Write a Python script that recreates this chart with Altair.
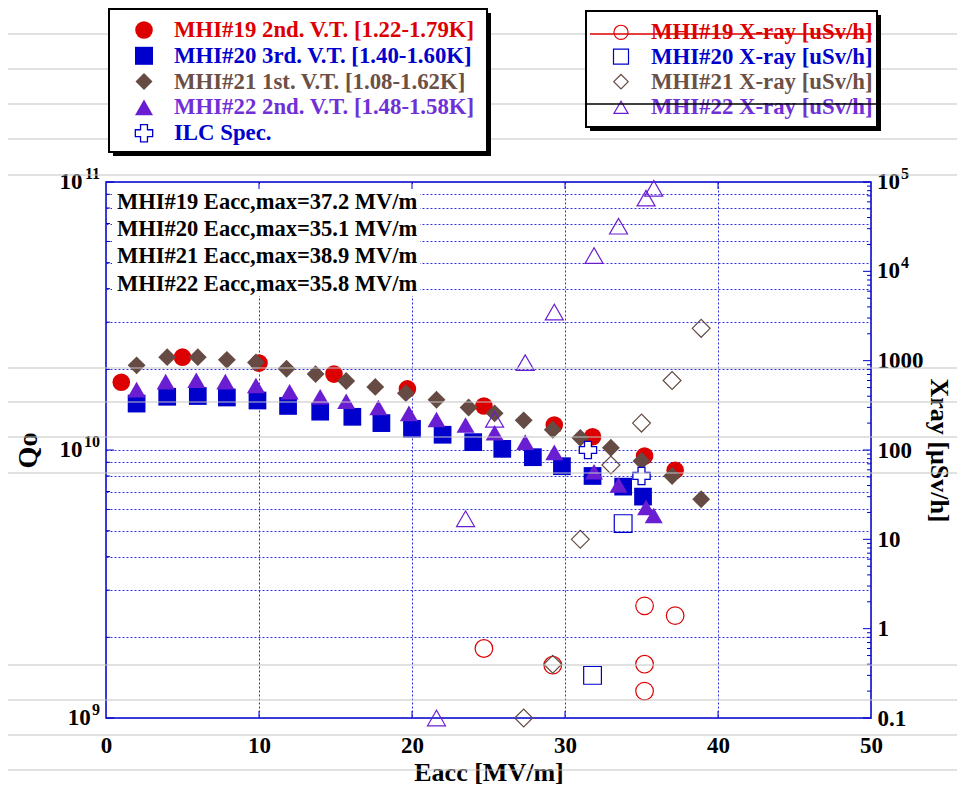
import altair as alt
import pandas as pd

# ---------------- data ----------------
SERIES = ["MHI#19", "MHI#20", "MHI#21", "MHI#22"]
COLORS = ["#dd0000", "#0000cc", "#654b44", "#6a1ed2"]
SHAPES = ["circle", "square", "diamond", "triangle-up"]

# Q0 vs Eacc
E19 = [1.0, 5.0, 10.0, 14.9, 19.7, 24.7, 29.3, 31.8, 35.2, 37.2]
Q19 = [1.79e10, 2.22e10, 2.11e10, 1.92e10, 1.69e10, 1.46e10, 1.24e10, 1.12e10, 9.5e9, 8.4e9]
E20 = [2.0, 4.0, 6.0, 7.9, 9.9, 11.9, 14.0, 16.1, 18.0, 20.0, 22.0, 24.0, 25.9, 27.9, 29.8, 31.8, 33.8, 35.1]
Q20 = [1.49e10, 1.58e10, 1.59e10, 1.57e10, 1.53e10, 1.46e10, 1.39e10, 1.33e10, 1.26e10, 1.20e10,
       1.14e10, 1.07e10, 1.01e10, 9.4e9, 8.7e9, 8.0e9, 7.3e9, 6.7e9]
E21 = [2.0, 4.0, 6.0, 7.9, 9.8, 11.8, 13.7, 15.7, 17.6, 19.6, 21.6, 23.7, 25.4, 27.3, 29.2, 31.0, 33.0, 35.0, 37.0, 38.9]
Q21 = [2.07e10, 2.22e10, 2.22e10, 2.17e10, 2.12e10, 2.01e10, 1.92e10, 1.81e10, 1.72e10, 1.63e10,
       1.54e10, 1.44e10, 1.37e10, 1.29e10, 1.19e10, 1.11e10, 1.02e10, 9.1e9, 8.0e9, 6.55e9]
E22 = [2.0, 3.9, 5.9, 7.8, 9.8, 12.0, 14.0, 15.7, 17.8, 19.8, 21.6, 23.5, 25.4, 27.4, 29.3, 31.9, 33.5, 35.3, 35.8]
Q22 = [1.68e10, 1.80e10, 1.82e10, 1.80e10, 1.74e10, 1.65e10, 1.58e10, 1.52e10, 1.44e10, 1.37e10,
       1.30e10, 1.24e10, 1.16e10, 1.07e10, 9.8e9, 8.3e9, 7.4e9, 6.1e9, 5.7e9]
E_ILC = [31.5, 35.0]
Q_ILC = [1.0e10, 8.0e9]

# X-ray vs Eacc
XE19 = [24.7, 29.2, 35.2, 37.2, 35.2, 35.2]
XR19 = [0.6, 0.39, 1.8, 1.4, 0.4, 0.2]
XE20 = [31.8, 33.8]
XR20 = [0.3, 15]
XE21 = [27.3, 29.2, 31.0, 33.0, 35.0, 37.0, 38.9]
XR21 = [0.1, 0.4, 10, 68, 200, 600, 2300]
XE22 = [21.6, 23.5, 25.4, 27.4, 29.3, 31.9, 33.5, 35.3, 35.8]
XR22 = [0.1, 17, 220, 950, 3500, 15000, 32000, 66000, 85000]

Q_LEGEND = ["MHI#19 2nd. V.T. [1.22-1.79K]", "MHI#20 3rd. V.T. [1.40-1.60K]",
            "MHI#21 1st. V.T. [1.08-1.62K]", "MHI#22 2nd. V.T. [1.48-1.58K]", "ILC Spec."]
X_LEGEND = ["MHI#19 X-ray [uSv/h]", "MHI#20 X-ray [uSv/h]", "MHI#21 X-ray [uSv/h]", "MHI#22 X-ray [uSv/h]"]
ANNOT = ["MHI#19 Eacc,max=37.2 MV/m", "MHI#20 Eacc,max=35.1 MV/m",
         "MHI#21 Eacc,max=38.9 MV/m", "MHI#22 Eacc,max=35.8 MV/m"]

X_TICKS = [0, 10, 20, 30, 40, 50]
Q_DECADES = [1e9, 1e10, 1e11]
Q_EXP = ["9", "10", "11"]
Q_TICKS = [m * 10.0 ** d for d in (9, 10) for m in range(1, 10)] + [1e11]
XR_DECADES = [0.1, 1, 10, 100, 1000, 1e4, 1e5]
XR_POW = [1e4, 1e5]
XR_EXP = ["4", "5"]
XR_TICKS = [m * 10.0 ** d for d in range(-1, 5) for m in range(1, 10)] + [1e5]

# ---------------- layout / style ----------------
W, H = 765, 536
FONT = "Liberation Serif"
BLUE = "#0000cc"
GRID = "#2e2ee0"
LEG_TEXT = ["#dd0000", "#0000cc", "#6b5046", "#7030d8", "#0000cc"]
LAB = 23      # tick label size
SUP = 16      # superscript size

q_df = pd.concat([pd.DataFrame({"E": e, "Q0": q, "series": s})
                  for e, q, s in zip([E19, E20, E21, E22], [Q19, Q20, Q21, Q22], SERIES)])
xr_df = pd.concat([pd.DataFrame({"E": e, "X": x, "series": s})
                   for e, x, s in zip([XE19, XE20, XE21, XE22], [XR19, XR20, XR21, XR22], SERIES)])
ilc_df = pd.DataFrame({"E": E_ILC, "Q0": Q_ILC})
one = pd.DataFrame({"k": [0]})

xs = alt.Scale(domain=[0, 50], nice=False, zero=False)
qs = alt.Scale(type="log", domain=[1e9, 1e11], nice=False)
xrs = alt.Scale(type="log", domain=[0.1, 1e5], nice=False)
cscale = alt.Scale(domain=SERIES, range=COLORS)
shscale = alt.Scale(domain=SERIES, range=SHAPES)

x_axis = alt.Axis(values=X_TICKS, title="Eacc [MV/m]", grid=True, gridColor=GRID, gridDash=[2, 2],
                  gridWidth=1, labelFontSize=LAB, titleFontSize=26, labelPadding=16, titlePadding=2,
                  labelFlush=False, format="d", ticks=False, domain=False)
q_axis = alt.Axis(values=Q_TICKS, title="Qo", grid=True, gridColor=GRID, gridDash=[2, 2], gridWidth=1,
                  labelExpr="''", labelOverlap=False, labelFontSize=LAB, titleFontSize=28,
                  labelPadding=6, titlePadding=58, ticks=False, domain=False)
xr_axis = alt.Axis(orient="right", values=XR_DECADES, title="Xray [μSv/h]", grid=False,
                   labelExpr="datum.value > 9e3 ? '' : (datum.value > 900 ? '1000' : (datum.value > 90 ? '100' : (datum.value > 9 ? '10' : (datum.value > 0.9 ? '1' : '0.1'))))",
                   labelOverlap=False, labelFontSize=LAB, titleFontSize=26, labelPadding=6, titlePadding=2,
                   ticks=False, domain=False)

def tlabel(df, field, txt, x, align, size, dy=0):
    return alt.Chart(df).mark_text(text=txt, align=align, baseline="middle", font=FONT, fontSize=size,
                                   fontWeight="bold", color="black", dy=dy).encode(
        y=f"{field}:Q", x=alt.value(x))

# ---------------- Q0 group ----------------
q_points = alt.Chart(q_df).mark_point(filled=True, opacity=1, strokeWidth=0).encode(
    x=alt.X("E:Q", scale=xs, axis=x_axis),
    y=alt.Y("Q0:Q", scale=qs, axis=q_axis),
    color=alt.Color("series:N", scale=cscale, legend=None),
    shape=alt.Shape("series:N", scale=shscale, legend=None),
    size=alt.Size("series:O", scale=alt.Scale(domain=SERIES, range=[310, 324, 290, 324]), legend=None),
)
ilc_pts = alt.Chart(ilc_df).mark_point(shape="cross", filled=True, fill="white", stroke=BLUE,
                                       strokeWidth=1.3, size=300, opacity=1).encode(x="E:Q", y="Q0:Q")
qmin = pd.DataFrame({"Q0": [v for v in Q_TICKS if v not in Q_DECADES]})
qmaj = pd.DataFrame({"Q0": Q_DECADES})
q_tick_min = alt.Chart(qmin).mark_rule(color=BLUE, strokeWidth=1).encode(
    y="Q0:Q", x=alt.value(0), x2=alt.value(4))
q_tick_maj = alt.Chart(qmaj).mark_rule(color=BLUE, strokeWidth=1).encode(
    y="Q0:Q", x=alt.value(0), x2=alt.value(8))
q_labels = []
for v, ex in zip(Q_DECADES, Q_EXP):
    d = pd.DataFrame({"Q0": [v]})
    supw = 8.2 * len(ex) + 1
    q_labels.append(tlabel(d, "Q0", ex, -6, "right", SUP, dy=-8))
    q_labels.append(tlabel(d, "Q0", "10", -6 - supw, "right", LAB))
q_group = alt.layer(q_points, q_tick_min, q_tick_maj, ilc_pts, *q_labels)

# ---------------- X-ray group ----------------
xr_points = alt.Chart(xr_df).mark_point(filled=False, opacity=1, strokeWidth=1.2).encode(
    x="E:Q",
    y=alt.Y("X:Q", scale=xrs, axis=xr_axis),
    color=alt.Color("series:N", scale=cscale, legend=None),
    shape=alt.Shape("series:N", scale=shscale, legend=None),
    size=alt.Size("series:O", scale=alt.Scale(domain=SERIES, range=[200, 225, 210, 200]), legend=None),
)
xmin = pd.DataFrame({"X": [v for v in XR_TICKS if min(abs(v - d) for d in XR_DECADES) > 1e-9 * v]})
xmaj = pd.DataFrame({"X": XR_DECADES})
xr_tick_min = alt.Chart(xmin).mark_rule(color=BLUE, strokeWidth=1).encode(
    y="X:Q", x=alt.value(W - 4), x2=alt.value(W))
xr_tick_maj = alt.Chart(xmaj).mark_rule(color=BLUE, strokeWidth=1).encode(
    y="X:Q", x=alt.value(W - 8), x2=alt.value(W))
xr_labels = []
for v, ex in zip(XR_POW, XR_EXP):
    d = pd.DataFrame({"X": [v]})
    xr_labels.append(tlabel(d, "X", "10", W + 6, "left", LAB))
    xr_labels.append(tlabel(d, "X", ex, W + 6 + 24, "left", SUP, dy=-8))
xr_group = alt.layer(xr_points, xr_tick_min, xr_tick_maj, *xr_labels)

# ---------------- x ticks (inward, bottom and top) ----------------
xt = pd.DataFrame({"E": X_TICKS[1:-1]})
x_tick_b = alt.Chart(xt).mark_rule(color=BLUE, strokeWidth=1).encode(
    x="E:Q", y=alt.value(H - 7), y2=alt.value(H))
x_tick_t = alt.Chart(xt).mark_rule(color=BLUE, strokeWidth=1).encode(
    x="E:Q", y=alt.value(0), y2=alt.value(7))

# ---------------- decoration helpers ----------------
def rect(x1, y1, x2, y2, **kw):
    return alt.Chart(one).mark_rect(**kw).encode(
        x=alt.value(x1), x2=alt.value(x2), y=alt.value(y1), y2=alt.value(y2))

def hline(y, x1, x2, color, width):
    return alt.Chart(one).mark_rule(color=color, strokeWidth=width).encode(
        x=alt.value(x1), x2=alt.value(x2), y=alt.value(y))

def label(txt, x, y, color, size=22.8):
    return alt.Chart(one).mark_text(text=txt, align="left", baseline="middle", font=FONT,
                                    fontSize=size, fontWeight="bold", color=color).encode(
        x=alt.value(x), y=alt.value(y))

def symbol(shape, x, y, size, filled, color, fill=None):
    kw = dict(shape=shape, size=size, opacity=1)
    if filled:
        kw.update(filled=True, fill=fill if fill else color, strokeWidth=0 if fill is None else 1.3)
        if fill is not None:
            kw.update(stroke=color)
    else:
        kw.update(filled=False, stroke=color, strokeWidth=1.2)
    return alt.Chart(one).mark_point(**kw).encode(x=alt.value(x), y=alt.value(y))

# annotation block (white backing hides the grid)
annot_layers = [rect(6, 2, 314, 114, fill="white")]
for i, t in enumerate(ANNOT):
    annot_layers.append(label(t, 11, 20 + i * 27.2, "black", size=22.5))

# background ruled lines of the slide
BG_LINES = [-148, -113, -78, -43, -7, 186, 220, 255, 291, 483, 518, 553, 588]
bg_layers = [hline(y, -100, 860, "#c4c4c4", 1.2) for y in BG_LINES]

# legend 1 (filled markers)
leg1 = [rect(7, -169, 385, -26, fill="black"),
        rect(3, -173, 381, -30, fill="white", stroke="black", strokeWidth=2)]
L1_Y = [-152, -126.2, -100.4, -74.6, -48.8]
for i in range(4):
    leg1.append(symbol(SHAPES[i], 38, L1_Y[i], [310, 324, 290, 324][i], True, COLORS[i]))
    leg1.append(label(Q_LEGEND[i], 68, L1_Y[i], LEG_TEXT[i]))
leg1.append(symbol("cross", 38, L1_Y[4], 300, True, BLUE, fill="white"))
leg1.append(label(Q_LEGEND[4], 68, L1_Y[4], LEG_TEXT[4]))

# legend 2 (open markers)
leg2 = [rect(484, -167, 775, -51, fill="black"),
        rect(480, -171, 771, -55, fill="white", stroke="black", strokeWidth=2)]
L2_Y = [-149.7, -125.3, -100.3, -74.7]
for i in range(4):
    leg2.append(symbol(SHAPES[i], 515, L2_Y[i], [200, 225, 210, 200][i], False, COLORS[i]))
    leg2.append(label(X_LEGEND[i], 545, L2_Y[i], LEG_TEXT[i]))
leg2.append(hline(-148, 484, 766, "#dd0000", 1.3))
leg2.append(hline(-78, 480, 774, "black", 1.3))

layers = annot_layers + [q_group, xr_group, x_tick_b, x_tick_t] + bg_layers + leg1 + leg2

chart = alt.layer(*layers).resolve_scale(y="independent").properties(
    width=W, height=H,
    autosize=alt.AutoSizeParams(type="none"),
    padding={"left": 98, "top": 174, "right": 86, "bottom": 70},
).configure_view(stroke=BLUE, strokeWidth=1.5).configure_axis(
    labelFont=FONT, titleFont=FONT, labelFontWeight="bold", titleFontWeight="bold",
    labelColor="black", titleColor="black",
)

chart.save("out.html", embed_options={"renderer": "svg", "actions": False})
